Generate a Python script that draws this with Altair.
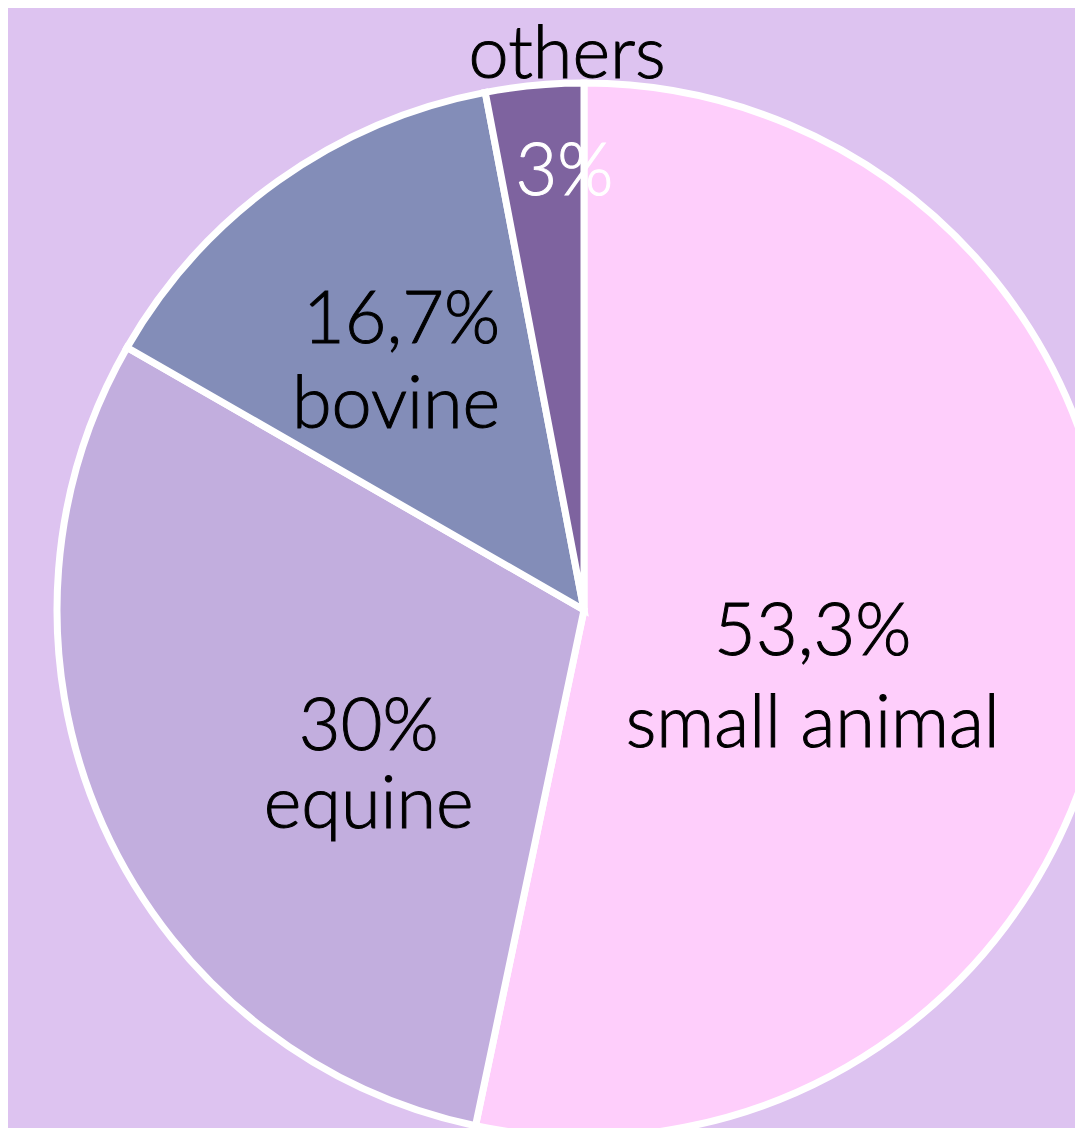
import altair as alt
import pandas as pd

# data
categories = ["small animal", "equine", "bovine", "others"]
shares = [53.3, 30.0, 13.7, 3.0]          # drawn slice sizes (percent of circle)
pct_labels = ["53,3%", "30%", "16,7%", "3%"]
colors = ["#FECEFB", "#C2AEDE", "#838DB8", "#7E639F"]

df = pd.DataFrame({
    "category": categories,
    "share": shares,
    "pct": pct_labels,
    "idx": list(range(len(categories))),
})
df["full"] = df["pct"] + "\n" + df["category"]

CX, CY = 576, 602
FONT = "Lato"
theta_scale = alt.Scale(domain=[0, 100])

base = alt.Chart(df)

arc = base.mark_arc(outerRadius=527, stroke="white", strokeWidth=7).encode(
    theta=alt.Theta("share:Q", stack=True, scale=theta_scale),
    color=alt.Color("category:N", scale=alt.Scale(domain=categories, range=colors), legend=None),
    order=alt.Order("idx:Q"),
    x=alt.value(CX),
    y=alt.value(CY),
)


def label(cat, field, radius, dx, dy, align="center", color="black", line_height=90):
    return (
        base.transform_window(cum="sum(share)", sort=[alt.SortField("idx")], frame=[None, 0])
        .transform_calculate(mid="datum.cum - datum.share / 2")
        .transform_filter(alt.datum.category == cat)
        .mark_text(
            font=FONT, fontSize=72, fontWeight=300, color=color, stroke=color, strokeWidth=1,
            align=align, baseline="alphabetic",
            radius=radius, dx=dx, dy=dy, lineBreak="\n", lineHeight=line_height,
        )
        .encode(
            theta=alt.Theta("mid:Q", stack=None, scale=theta_scale),
            text=alt.Text(f"{field}:N"),
            x=alt.value(CX),
            y=alt.value(CY),
        )
    )


layers = [
    arc,
    label("small animal", "full", 240, -10, 20, line_height=92),
    label("equine", "full", 260, 22, 34, line_height=78),
    label("bovine", "full", 260, 67, -55, align="right", line_height=85),
    label("others", "pct", 420, 20, 3, color="white"),
    label("others", "category", 530, 33, -4),
]

chart = alt.layer(*layers).properties(
    width=1067, height=1120, padding=0, autosize=alt.AutoSizeParams(type="none"),
    background="#DDC3F0",
).configure_view(stroke=None)

chart.save("out.html", embed_options={"renderer": "svg", "actions": False})
